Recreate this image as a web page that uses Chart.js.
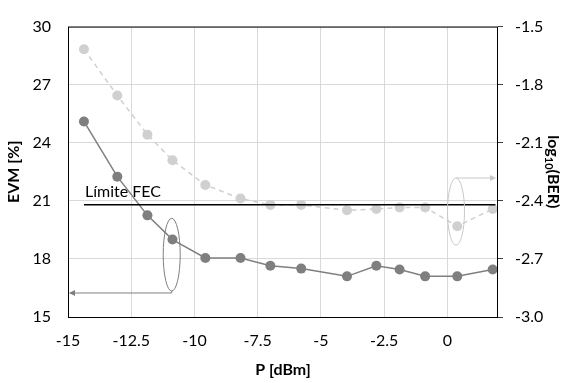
<!DOCTYPE html>
<html>
<head>
<meta charset="utf-8">
<script src="https://cdn.jsdelivr.net/npm/chart.js@4"></script>
<style>
  html, body { margin: 0; padding: 0; background: #fff; }
  #wrap { width: 568px; height: 383px; }
</style>
</head>
<body>
<div id="wrap"><canvas id="evmChart" width="568" height="383"></canvas></div>
<script>
// potencia recibida (dBm)
const potencia = [-14.37, -13.05, -11.86, -10.87, -9.57, -8.18, -7.0, -5.78, -3.97, -2.81, -1.89, -0.88, 0.39, 1.79];
// EVM [%] (eje izquierdo)
const evm = [25.1, 22.25, 20.25, 19.0, 18.05, 18.05, 17.65, 17.5, 17.1, 17.65, 17.45, 17.1, 17.1, 17.45];
// log10(BER) (eje derecho)
const logBer = [-1.617, -1.856, -2.058, -2.19, -2.318, -2.388, -2.421, -2.421, -2.449, -2.442, -2.434, -2.434, -2.531, -2.442];
// límite FEC
const fecX = [-14.37, 1.9];
const fecEvm = 20.8;

const xTicks = [-15, -12.5, -10, -7.5, -5, -2.5, 0];
const evmTicks = [15, 18, 21, 24, 27, 30];
const berTicks = [-3.0, -2.7, -2.4, -2.1, -1.8, -1.5];

const FONT = 'Lato, "Open Sans", sans-serif';
const oscuro = '#7f7f7f';
const claro = '#d0d0d0';

// marco, elipses, flechas y textos
const extras = {
    id: 'extras',
    beforeDatasetsDraw(chart) {
        const ctx = chart.ctx;
        const x = chart.scales.x, y = chart.scales.y;
        ctx.save();
        ctx.fillStyle = '#000';
        ctx.font = '16px ' + FONT;
        ctx.textBaseline = 'alphabetic';
        ctx.fillText('Límite FEC', x.getPixelForValue(fecX[0]) + 1, y.getPixelForValue(fecEvm) - 8);
        ctx.restore();
    },
    afterDatasetsDraw(chart) {
        const ctx = chart.ctx;
        const a = chart.chartArea;
        const x = chart.scales.x, y = chart.scales.y, y2 = chart.scales.y2;
        ctx.save();

        // elipse serie EVM + flecha a la izquierda
        let cx = x.getPixelForValue(-10.9);
        let top = y.getPixelForValue(20.1), bot = y.getPixelForValue(16.34);
        ctx.strokeStyle = oscuro;
        ctx.lineWidth = 1;
        ctx.beginPath();
        ctx.ellipse(cx, (top + bot) / 2, 8.5, (bot - top) / 2, 0, 0, Math.PI * 2);
        ctx.stroke();
        let ay = y.getPixelForValue(16.24);
        ctx.beginPath();
        ctx.moveTo(cx, bot);
        ctx.lineTo(cx, ay);
        ctx.lineTo(a.left + 2, ay);
        ctx.stroke();
        ctx.fillStyle = oscuro;
        ctx.beginPath();
        ctx.moveTo(a.left + 1, ay);
        ctx.lineTo(a.left + 7, ay - 3);
        ctx.lineTo(a.left + 7, ay + 3);
        ctx.closePath();
        ctx.fill();

        // elipse serie BER + flecha a la derecha
        cx = x.getPixelForValue(0.34);
        top = y2.getPixelForValue(-2.282);
        bot = y2.getPixelForValue(-2.629);
        ctx.strokeStyle = '#c8c8c8';
        ctx.beginPath();
        ctx.ellipse(cx, (top + bot) / 2, 8.5, (bot - top) / 2, 0, 0, Math.PI * 2);
        ctx.stroke();
        ctx.beginPath();
        ctx.moveTo(cx, top);
        ctx.lineTo(a.right - 4, top);
        ctx.stroke();
        ctx.fillStyle = '#c8c8c8';
        ctx.beginPath();
        ctx.moveTo(a.right - 2, top);
        ctx.lineTo(a.right - 8, top - 3);
        ctx.lineTo(a.right - 8, top + 3);
        ctx.closePath();
        ctx.fill();

        // marco del área
        ctx.strokeStyle = '#000';
        ctx.lineWidth = 1;
        ctx.strokeRect(a.left + 0.5, a.top + 0.5, a.right - a.left - 1, a.bottom - a.top);
        ctx.restore();
    },
    afterDraw(chart) {
        // título eje derecho con subíndice
        const ctx = chart.ctx;
        const a = chart.chartArea;
        const big = 'bold 16px ' + FONT, small = 'bold 11px ' + FONT;
        ctx.save();
        ctx.font = big;
        const w1 = ctx.measureText('log').width;
        const w3 = ctx.measureText('(BER)').width;
        ctx.font = small;
        const w2 = ctx.measureText('10').width;
        const total = w1 + w2 + w3;
        ctx.translate(553, (a.top + a.bottom) / 2);
        ctx.rotate(Math.PI / 2);
        ctx.fillStyle = '#000';
        ctx.textBaseline = 'middle';
        let px = -total / 2;
        ctx.font = big;
        ctx.fillText('log', px, 0);
        px += w1;
        ctx.font = small;
        ctx.fillText('10', px, 4);
        px += w2;
        ctx.font = big;
        ctx.fillText('(BER)', px, 0);
        ctx.restore();
    }
};

new Chart(document.getElementById('evmChart'), {
    type: 'line',
    data: {
        datasets: [
            {
                label: 'Límite FEC',
                data: fecX.map(v => ({ x: v, y: fecEvm })),
                yAxisID: 'y',
                borderColor: '#000',
                borderWidth: 1.5,
                pointRadius: 0,
                order: 0
            },
            {
                label: 'EVM',
                data: potencia.map((p, i) => ({ x: p, y: evm[i] })),
                yAxisID: 'y',
                borderColor: oscuro,
                backgroundColor: oscuro,
                borderWidth: 1.5,
                pointRadius: 5,
                pointBorderWidth: 0,
                order: 1
            },
            {
                label: 'BER',
                data: potencia.map((p, i) => ({ x: p, y: logBer[i] })),
                yAxisID: 'y2',
                borderColor: claro,
                backgroundColor: claro,
                borderWidth: 1.5,
                borderDash: [5, 4],
                pointRadius: 5,
                pointBorderWidth: 0,
                order: 2
            }
        ]
    },
    options: {
        responsive: false,
        animation: false,
        layout: { padding: { top: 14, left: 0, right: 0, bottom: 0 } },
        plugins: {
            legend: { display: false },
            tooltip: { enabled: false }
        },
        scales: {
            x: {
                type: 'linear',
                min: -15,
                max: 2,
                afterBuildTicks: s => { s.ticks = xTicks.map(v => ({ value: v })); },
                afterFit: s => { s.height = 66; },
                grid: { color: '#d9d9d9', drawTicks: false },
                border: { display: false },
                ticks: {
                    padding: 14,
                    color: '#000',
                    font: { family: FONT, size: 16 },
                    callback: v => String(v)
                },
                title: {
                    display: true,
                    text: 'P [dBm]',
                    color: '#000',
                    font: { family: FONT, size: 16, weight: 'bold' },
                    padding: { top: 1 }
                }
            },
            y: {
                position: 'left',
                min: 15,
                max: 30,
                afterBuildTicks: s => { s.ticks = evmTicks.map(v => ({ value: v })); },
                afterFit: s => { s.width = 68; },
                grid: { color: '#d9d9d9', drawTicks: false },
                border: { display: false },
                ticks: {
                    padding: 17,
                    color: '#000',
                    font: { family: FONT, size: 16 }
                },
                title: {
                    display: true,
                    text: 'EVM [%]',
                    color: '#000',
                    font: { family: FONT, size: 16, weight: 'bold' },
                    padding: { bottom: 0 }
                }
            },
            y2: {
                position: 'right',
                min: -3.0,
                max: -1.5,
                afterBuildTicks: s => { s.ticks = berTicks.map(v => ({ value: v })); },
                afterFit: s => { s.width = 70; },
                grid: { drawOnChartArea: false, drawTicks: true, tickLength: 5, color: '#404040' },
                border: { display: false },
                ticks: {
                    padding: 12,
                    color: '#000',
                    font: { family: FONT, size: 16 },
                    callback: v => v.toFixed(1)
                }
            }
        }
    },
    plugins: [extras]
});
</script>
</body>
</html>
